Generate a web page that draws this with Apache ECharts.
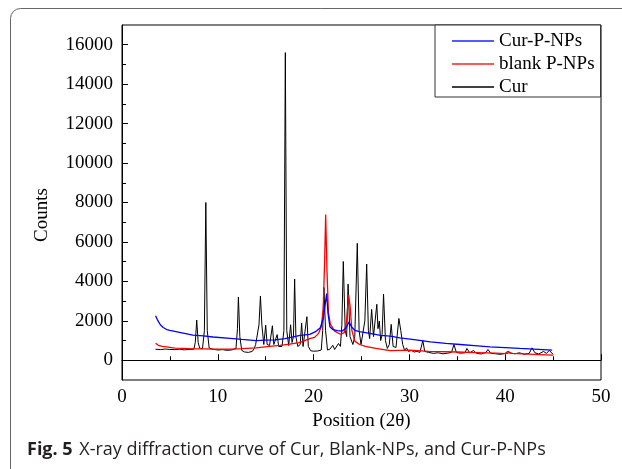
<!DOCTYPE html>
<html>
<head>
<meta charset="utf-8">
<script src="https://cdn.jsdelivr.net/npm/echarts@6/dist/echarts.min.js"></script>
<style>
html,body{margin:0;padding:0;background:#fff;}
#chart{width:622px;height:469px;}
</style>
</head>
<body>
<div id="chart"></div>
<script>
// ---- data (2θ, counts) ----
const seriesNames = ['Cur-P-NPs', 'blank P-NPs', 'Cur'];
const yMajorTicks = [0, 2000, 4000, 6000, 8000, 10000, 12000, 14000, 16000];
const yMinorTicks = [1000, 3000, 5000, 7000, 9000, 11000, 13000, 15000];

const curPNPs = [[3.5,2260],[3.7,2050],[4.0,1800],[4.3,1660],[4.67,1560],[5.0,1520],[6,1420],[7.4,1280],[8.5,1240],[9.5,1180],[11.3,1110],[12.5,1060],[14.0,1000],[15.0,1020],[16.0,1030],[17.0,1100],[18.0,1200],[18.6,1260],[19.6,1310],[20.2,1450],[20.7,1650],[21.0,2100],[21.2,2800],[21.36,3380],[21.5,2400],[21.7,1700],[22.0,1560],[22.5,1500],[23.0,1480],[23.4,1650],[23.7,1950],[23.95,1700],[24.3,1520],[24.8,1450],[26,1350],[27,1260],[28,1220],[29,1140],[30.5,1050],[32.2,930],[33.8,860],[35.3,800],[36.8,740],[38.4,680],[40,640],[41.5,600],[43,570],[44.9,510]];

const blankPNPs = [[3.5,860],[3.8,760],[4.2,700],[4.67,680],[5.5,620],[6.5,600],[7.4,580],[8.5,580],[9.5,570],[10.5,560],[11.5,570],[12.5,590],[13.5,620],[14.0,630],[15.4,710],[16.5,760],[17.5,815],[18.5,900],[19.0,980],[19.6,1100],[20.1,1160],[20.5,1350],[20.8,1700],[21.0,2600],[21.15,5000],[21.26,7390],[21.4,4500],[21.55,2400],[21.75,1830],[22.2,1480],[22.8,1320],[23.2,1400],[23.45,2000],[23.65,3310],[23.8,2800],[24.0,1500],[24.3,970],[24.8,800],[25.4,710],[26.5,600],[28,490],[30,510],[32,450],[35,420],[37,390],[39,360],[40,340],[40.3,460],[40.6,350],[42,320],[43.5,290],[45,260]];

const cur = [[3.5,560],[4,540],[4.5,570],[5,550],[5.5,540],[6,560],[6.5,530],[7,550],[7.5,560],[7.65,900],[7.8,2040],[7.95,900],[8.1,620],[8.4,580],[8.6,1500],[8.75,8000],[8.9,1500],[9.1,620],[9.5,560],[10,520],[10.5,540],[11,500],[11.5,530],[11.9,600],[12.05,1600],[12.15,3210],[12.3,1200],[12.5,500],[12.8,420],[13.2,400],[13.6,450],[13.8,600],[13.95,800],[14.1,700],[14.3,1800],[14.45,3260],[14.6,1800],[14.8,800],[15.0,1780],[15.15,800],[15.4,750],[15.7,1750],[15.85,800],[16.05,700],[16.2,1300],[16.35,700],[16.7,700],[16.9,1500],[17.05,15600],[17.2,1500],[17.4,750],[17.6,1800],[17.75,900],[17.9,1200],[18.02,4120],[18.15,1200],[18.35,700],[18.6,800],[18.75,1890],[18.9,700],[19.1,650],[19.3,2210],[19.45,700],[19.7,480],[20,460],[20.4,470],[20.8,520],[20.95,1500],[21.08,3690],[21.25,1500],[21.45,520],[21.7,560],[22.0,760],[22.2,550],[22.4,600],[22.6,850],[22.8,700],[22.95,1800],[23.1,5010],[23.3,1500],[23.45,1200],[23.6,3860],[23.8,1200],[24.1,800],[24.3,1200],[24.56,5930],[24.75,1500],[24.95,800],[25.15,900],[25.35,2000],[25.54,4880],[25.72,1500],[25.85,1100],[26.06,2580],[26.25,1200],[26.4,1300],[26.6,2840],[26.72,1600],[26.86,1990],[27.0,1000],[27.15,1300],[27.3,3350],[27.5,1000],[27.7,600],[27.9,800],[28.1,1820],[28.3,700],[28.6,650],[28.9,2120],[29.1,1510],[29.3,800],[29.5,500],[29.7,630],[29.9,450],[30.2,500],[30.5,420],[30.8,450],[31.1,400],[31.4,1000],[31.6,450],[32,400],[32.5,350],[33,380],[33.5,330],[34,360],[34.4,400],[34.65,800],[34.9,400],[35.3,360],[35.8,380],[36.0,600],[36.3,380],[36.7,500],[37,350],[37.5,320],[38.0,400],[38.2,550],[38.5,350],[39,330],[39.5,300],[40,350],[40.5,380],[41,330],[41.5,380],[42,300],[42.5,350],[42.8,630],[43.1,380],[43.5,320],[44,450],[44.3,350],[44.6,500],[45,300]];

const chart = echarts.init(document.getElementById('chart'), null, {renderer: 'canvas'});
const serif = 'Liberation Serif, Times New Roman, serif';
const axisBase = {
  axisLine: {show: true, lineStyle: {color: '#000', width: 1}},
  splitLine: {show: false}
};
chart.setOption({
  animation: false,
  backgroundColor: '#fff',
  grid: {left: 122, right: 21, top: 25, bottom: 89, show: true, borderColor: '#000', borderWidth: 1, backgroundColor: 'transparent'},
  legend: {
    data: seriesNames.map(n => ({name: n, icon: 'rect'})),
    orient: 'vertical',
    left: 435, top: 25,
    padding: [6, 6, 0, 17],
    itemGap: 3,
    itemWidth: 42, itemHeight: 1.5,
    itemTextGap: 3,
    backgroundColor: '#fff',
    borderColor: '#333', borderWidth: 1,
    textStyle: {fontFamily: serif, fontSize: 19, color: '#000', lineHeight: 20}
  },
  xAxis: Object.assign({}, axisBase, {
    type: 'value', min: 0, max: 50, interval: 10,
    axisTick: {show: true, inside: true, length: 6, lineStyle: {color: '#000'}},
    minorTick: {show: true, splitNumber: 2, length: 4, lineStyle: {color: '#000'}},
    axisLabel: {fontFamily: serif, fontSize: 19, color: '#000', margin: 8},
    name: 'Position (2θ)', nameLocation: 'middle', nameGap: 30,
    nameTextStyle: {fontFamily: serif, fontSize: 19, color: '#000'}
  }),
  yAxis: [
    Object.assign({}, axisBase, {
      type: 'value', min: -1000, max: 17000,
      axisTick: {show: true, inside: true, length: 6, customValues: yMajorTicks, lineStyle: {color: '#000'}},
      axisLabel: {fontFamily: serif, fontSize: 19, color: '#000', margin: 9, customValues: yMajorTicks,
        formatter: v => String(v)}
    }),
    {
      type: 'value', min: -1000, max: 17000, position: 'left',
      axisLine: {show: false}, splitLine: {show: false},
      axisLabel: {show: false},
      axisTick: {show: true, inside: true, length: 4, customValues: yMinorTicks, lineStyle: {color: '#000'}}
    }
  ],
  series: [
    {name: 'Cur', type: 'line', data: cur, symbol: 'none', lineStyle: {color: '#000', width: 1}, itemStyle: {color: '#000'}, z: 2},
    {name: 'blank P-NPs', type: 'line', data: blankPNPs, symbol: 'none', lineStyle: {color: '#ff0000', width: 1.3}, itemStyle: {color: '#ff2020'}, z: 3},
    {name: 'Cur-P-NPs', type: 'line', data: curPNPs, symbol: 'none', lineStyle: {color: '#0000ff', width: 1.3}, itemStyle: {color: '#2020ff'}, z: 4}
  ],
  graphic: [
    {type: 'rect', shape: {x: 10.5, y: 8.5, width: 700, height: 600, r: 10}, style: {fill: 'none', stroke: '#666', lineWidth: 1}, z: 0},
    {type: 'text', x: 42, y: 215, rotation: Math.PI / 2,
      style: {text: 'Counts', font: '19px ' + serif, fill: '#000', align: 'center', verticalAlign: 'middle'}},
    {type: 'text', x: 27, y: 450,
      style: {
        text: '{a|Fig. 5}  {b|X-ray diffraction curve of Cur, Blank-NPs, and Cur-P-NPs}',
        verticalAlign: 'middle',
        rich: {
          a: {fontFamily: 'Open Sans', fontWeight: 'bold', fontSize: 18, fill: '#231f20'},
          b: {fontFamily: 'Open Sans', fontSize: 18, fill: '#231f20'}
        }
      }}
  ]
});
</script>
</body>
</html>
